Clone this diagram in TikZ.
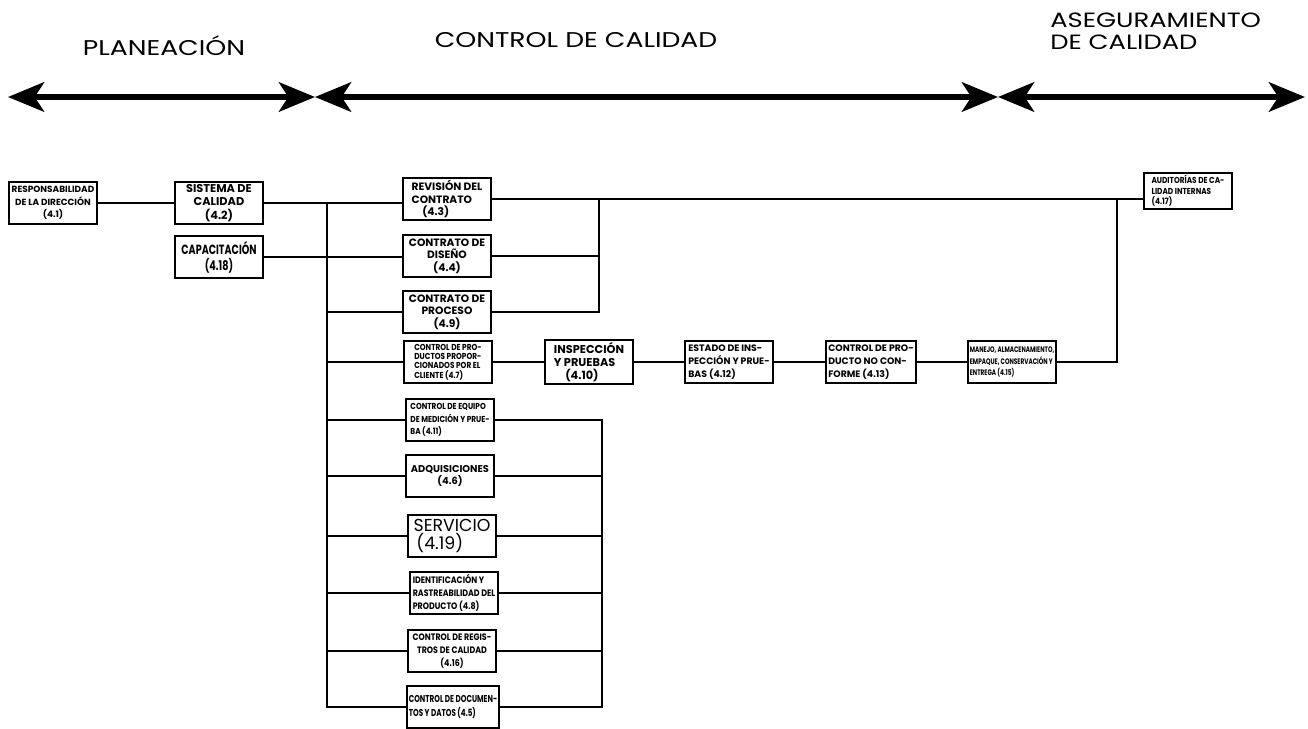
\documentclass[tikz,border=0pt]{standalone}
\usepackage{fontspec}
\setmainfont{Poppins}
\newfontfamily\fasefont[FakeStretch=1.25]{Poppins}
\newfontfamily\angosta[FakeStretch=0.72]{Poppins}
\newfontfamily\media[FakeStretch=0.85]{Poppins}
\usetikzlibrary{arrows.meta}

\begin{document}
\begin{tikzpicture}[x=0.75pt, y=-0.75pt, line width=1.2pt,
  caja/.style={draw, line width=1.3pt, minimum width=66pt, minimum height=31pt,
    inner sep=1.5pt, align=center,
    font=\bfseries\fontsize{7}{9.5}\selectfont},
  ancha/.style={font=\bfseries\fontsize{8}{9.5}\selectfont},
  estrecha/.style={font=\media\bfseries\fontsize{7}{9.5}\selectfont},
  chica/.style={font=\angosta\bfseries\fontsize{6}{8.5}\selectfont},
  grande/.style={font=\bfseries\fontsize{8.5}{10}\selectfont},
  etapa/.style={line width=4.5pt,
    {Stealth[length=27pt,width=22pt,inset=7pt]}-{Stealth[length=27pt,width=22pt,inset=7pt]}},
  fase/.style={font=\fasefont\fontsize{16}{16.5}\selectfont, align=left}]
  \useasboundingbox (0,0) rectangle (1308,728);

  % --- posiciones de los buses ---
  \def\busa{327}
  \def\busb{599}
  \def\busc{602}
  \def\busd{1117}

  % --- etapas (arriba) ---
  \node[fase] (plan) at (164,46) {PLANEACIÓN};
  \node[fase] (ctrl) at (576,40) {CONTROL DE CALIDAD};
  \node[fase, anchor=west, font=\fasefont\fontsize{15.5}{16.5}\selectfont] (aseg) at (1045,31) {ASEGURAMIENTO\\DE CALIDAD};

  \coordinate (izq) at (8,97);
  \coordinate (m1) at (315,97);
  \coordinate (m2) at (998,97);
  \coordinate (der) at (1305,97);
  \draw[etapa] (izq) -- (m1);
  \draw[etapa] (m1) -- (m2);
  \draw[etapa] (m2) -- (der);

  % --- planeacion ---
  \node[caja, font=\bfseries\fontsize{6.7}{9.5}\selectfont] (resp) at (53,203) {RESPONSABILIDAD\\DE LA DIRECCIÓN\\(4.1)};
  \node[caja, grande] (sist) at (219,203) {SISTEMA DE\\CALIDAD\\(4.2)};
  \node[caja, font=\angosta\bfseries\fontsize{10}{12}\selectfont] (capa) at (219,257) {CAPACITACIÓN\\(4.18)};

  % --- columna de elementos ---
  \node[caja, ancha, align=left] (rev) at (447,199) {REVISIÓN DEL\\CONTRATO\\\quad(4.3)};
  \node[caja, ancha] (dis) at (447,256) {CONTRATO DE\\DISEÑO\\(4.4)};
  \node[caja, ancha] (proc) at (447,312) {CONTRATO DE\\PROCESO\\(4.9)};
  \node[caja, align=left, font=\media\bfseries\fontsize{6.5}{7}\selectfont] (cli) at (448,362) {CONTROL DE PRO-\\DUCTOS PROPOR-\\CIONADOS POR EL\\CLIENTE (4.7)};
  \node[caja, align=left, font=\media\bfseries\fontsize{6.5}{9.5}\selectfont] (equi) at (450,420) {CONTROL DE EQUIPO\\DE MEDICIÓN Y PRUE-\\BA (4.11)};
  \node[caja, font=\bfseries\fontsize{7.4}{9.5}\selectfont] (adq) at (450,476) {ADQUISICIONES\\(4.6)};
  \node[caja, align=left, font=\fontsize{13}{13.5}\selectfont] (serv) at (452,536) {SERVICIO\\\,(4.19)};
  \node[caja, estrecha, align=left] (iden) at (454,593) {IDENTIFICACIÓN Y\\RASTREABILIDAD DEL\\PRODUCTO (4.8)};
  \node[caja, estrecha] (reg) at (452,651) {CONTROL DE REGIS-\\TROS DE CALIDAD\\(4.16)};
  \node[caja, align=left, font=\angosta\bfseries\fontsize{7.5}{11}\selectfont] (doc) at (453,707) {CONTROL DE DOCUMEN-\\TOS Y DATOS (4.5)};

  % --- cadena de inspeccion ---
  \node[caja, grande, align=left] (insp) at (589,362) {INSPECCIÓN\\Y PRUEBAS\\\quad(4.10)};
  \node[caja, align=left] (est) at (729,362) {ESTADO DE INS-\\PECCIÓN Y PRUE-\\BAS (4.12)};
  \node[caja, align=left] (noc) at (871,362) {CONTROL DE PRO-\\DUCTO NO CON-\\FORME (4.13)};
  \node[caja, chica, align=left] (man) at (1012,362) {MANEJO, ALMACENAMIENTO,\\EMPAQUE, CONSERVACIÓN Y\\ENTREGA (4.15)};
  \node[caja, estrecha, align=left, minimum height=24pt, font=\media\bfseries\fontsize{6.5}{8}\selectfont] (aud) at (1188,191) {AUDITORÍAS DE CA-\\LIDAD INTERNAS\\(4.17)};

  \coordinate (busA) at (\busa,203);
  \coordinate (busB) at (\busb,199);
  \coordinate (busC) at (\busc,420);
  \coordinate (busD) at (\busd,199);

  % conexiones de planeacion
  \draw (resp) -- (sist);
  \draw (sist.east) -- (sist.east -| rev.west);
  \draw (capa.east) -- (capa.east -| dis.west);

  % bus izquierdo
  \draw (sist.east -| busA) -- (doc.west -| busA) -- (doc.west);
  \foreach \n in {proc,cli,equi,adq,serv,iden,reg}
    \draw (busA |- \n.west) -- (\n.west);

  % contrato -> auditorias
  \draw (rev.east) -- (rev.east -| aud.west);
  \draw (rev.east -| busB) -- (proc.east -| busB) -- (proc.east);
  \draw (dis.east) -- (dis.east -| busB);

  % cadena hasta auditorias
  \draw (cli) -- (insp) -- (est) -- (noc) -- (man);
  \draw (man.east) -- (man.east -| busD) -- (rev.east -| busD);

  % bus derecho inferior
  \draw (equi.east) -- (equi.east -| busC) -- (doc.east -| busC) -- (doc.east);
  \foreach \n in {adq,serv,iden,reg}
    \draw (\n.east) -- (\n.east -| busC);
\end{tikzpicture}
\end{document}
